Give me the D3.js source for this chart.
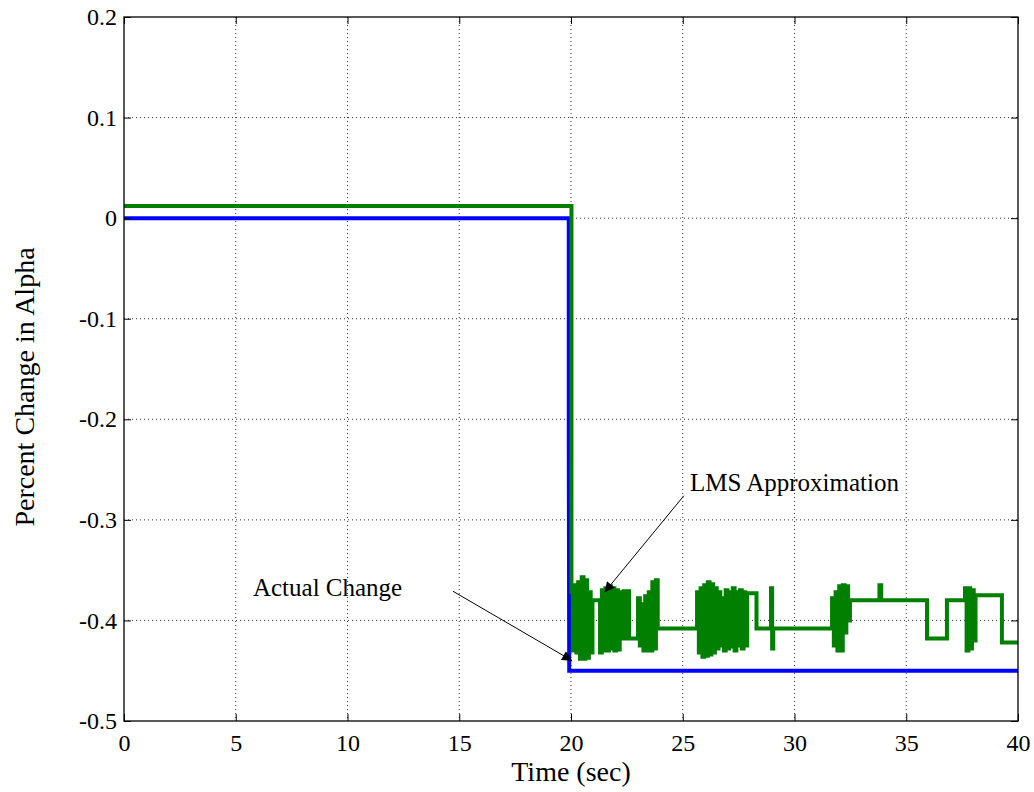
<!DOCTYPE html>
<html>
<head>
<meta charset="utf-8">
<script src="https://cdn.jsdelivr.net/npm/d3@7"></script>
<style>
  body { margin: 0; background: #fff; }
  text { font-family: "Liberation Serif", "Times New Roman", serif; fill: #000; }
</style>
</head>
<body>
<div id="chart"></div>
<script>
// ---- data ----
const xTicks = [0, 5, 10, 15, 20, 25, 30, 35, 40]
const yTicks = [-0.5, -0.4, -0.3, -0.2, -0.1, 0, 0.1, 0.2]

// actual change in alpha (blue)
const actualPoints = [
  [0, 0], [19.9, 0], [19.9, -0.225], [19.92, -0.45], [40, -0.45]
]

// LMS approximation (green), step-wise
const lmsPoints = [
  [0, 0.012], [20.02, 0.012], [20.02, -0.372],
  [20.08, -0.430], [20.16, -0.365], [20.24, -0.432], [20.32, -0.362], [20.4, -0.438],
  [20.48, -0.357], [20.56, -0.438], [20.64, -0.360], [20.72, -0.437], [20.8, -0.372],
  [20.88, -0.432], [20.96, -0.380],
  [21.3, -0.432], [21.38, -0.370], [21.46, -0.430], [21.54, -0.368], [21.62, -0.430],
  [21.7, -0.366], [21.78, -0.428], [21.86, -0.368], [21.94, -0.430], [22.02, -0.370],
  [22.1, -0.429], [22.18, -0.372], [22.28, -0.418], [22.36, -0.371], [22.44, -0.418],
  [22.52, -0.371], [22.6, -0.418],
  [23.0, -0.378], [23.08, -0.425], [23.16, -0.384], [23.24, -0.430], [23.32, -0.376],
  [23.4, -0.430], [23.48, -0.372], [23.56, -0.430], [23.64, -0.362], [23.72, -0.428],
  [23.8, -0.360], [23.88, -0.408],
  [25.64, -0.372], [25.72, -0.432], [25.8, -0.368], [25.88, -0.436], [25.96, -0.365],
  [26.04, -0.435], [26.12, -0.362], [26.2, -0.434], [26.28, -0.364], [26.36, -0.432],
  [26.44, -0.368], [26.52, -0.428], [26.6, -0.372], [26.68, -0.425], [26.76, -0.378],
  [26.84, -0.430], [26.92, -0.370], [27.0, -0.428], [27.08, -0.372], [27.16, -0.426],
  [27.24, -0.368], [27.32, -0.430], [27.4, -0.372], [27.48, -0.425], [27.56, -0.370],
  [27.64, -0.428], [27.72, -0.372], [27.8, -0.425], [27.88, -0.373],
  [28.3, -0.408], [28.95, -0.368], [29.0, -0.428], [29.05, -0.408],
  [31.68, -0.378], [31.76, -0.425], [31.84, -0.372], [31.92, -0.430], [32.0, -0.366],
  [32.08, -0.430], [32.16, -0.365], [32.24, -0.412], [32.32, -0.366], [32.4, -0.400],
  [32.48, -0.380],
  [33.8, -0.365], [33.88, -0.380],
  [35.93, -0.418], [36.82, -0.380],
  [37.63, -0.368], [37.7, -0.430], [37.78, -0.368], [37.86, -0.428], [37.94, -0.370],
  [38.02, -0.420], [38.1, -0.375],
  [39.28, -0.422], [40, -0.422]
]

const annotations = [
  { label: "LMS Approximation", tx: 25.32, ty: -0.271, from: [25.05, -0.276], to: [21.5, -0.372] },
  { label: "Actual Change", tx: 5.77, ty: -0.376, from: [14.72, -0.371], to: [20.05, -0.440] }
]

// ---- layout ----
const W = 1034, H = 792
const margin = { top: 17, right: 16, bottom: 71, left: 124 }
const width = W - margin.left - margin.right
const height = H - margin.top - margin.bottom

const svg = d3.select("#chart").append("svg")
  .attr("width", W)
  .attr("height", H)

const g = svg.append("g").attr("transform", `translate(${margin.left},${margin.top})`)

const x = d3.scaleLinear().domain([0, 40]).range([0, width])
const y = d3.scaleLinear().domain([-0.5, 0.2]).range([height, 0])

// grid
g.append("g").selectAll("line").data(xTicks.slice(1, -1)).enter().append("line")
  .attr("x1", d => x(d)).attr("x2", d => x(d))
  .attr("y1", 0).attr("y2", height)
  .attr("stroke", "#333").attr("stroke-width", 1).attr("stroke-dasharray", "1,3")
g.append("g").selectAll("line").data(yTicks.slice(1, -1)).enter().append("line")
  .attr("y1", d => y(d)).attr("y2", d => y(d))
  .attr("x1", 0).attr("x2", width)
  .attr("stroke", "#333").attr("stroke-width", 1).attr("stroke-dasharray", "1,3")

// lines
const line = d3.line().x(d => x(d[0])).y(d => y(d[1]))

g.append("path").datum(actualPoints)
  .attr("fill", "none").attr("stroke", "#0000ff").attr("stroke-width", 4)
  .attr("d", line)

g.append("path").datum(lmsPoints)
  .attr("fill", "none").attr("stroke", "#007f00").attr("stroke-width", 4)
  .attr("stroke-linejoin", "miter")
  .attr("d", line.curve(d3.curveStepAfter))

// box
g.append("rect").attr("width", width).attr("height", height)
  .attr("fill", "none").attr("stroke", "#000").attr("stroke-width", 1.3)

// axes, ticks inward
const fmtY = d => d === 0 ? "0" : d3.format(".1f")(d).replace("\u2212", "-")
const xAxis = d3.axisBottom(x).tickValues(xTicks).tickSize(-7).tickPadding(13).tickFormat(d3.format("d"))
const yAxis = d3.axisLeft(y).tickValues(yTicks).tickSize(-7).tickPadding(7).tickFormat(fmtY)

g.append("g").attr("transform", `translate(0,${height})`).call(xAxis)
g.append("g").call(yAxis)
// top/right ticks
g.append("g").call(d3.axisTop(x).tickValues(xTicks).tickSize(-7).tickFormat(""))
g.append("g").attr("transform", `translate(${width},0)`).call(d3.axisRight(y).tickValues(yTicks).tickSize(-7).tickFormat(""))

g.selectAll(".domain").remove()
g.selectAll(".tick line").attr("stroke", "#000")
g.selectAll(".tick text").style("font-family", '"Liberation Serif", serif').style("font-size", "24px")

// axis labels
svg.append("text")
  .attr("x", margin.left + width / 2).attr("y", 781)
  .attr("text-anchor", "middle").style("font-size", "28px")
  .text("Time (sec)")

svg.append("text")
  .attr("transform", `translate(34,${margin.top + height / 2 + 18}) rotate(-90)`)
  .attr("text-anchor", "middle").style("font-size", "28px")
  .text("Percent Change in Alpha")

// annotations
svg.append("defs").append("marker")
  .attr("id", "arrow").attr("viewBox", "0 0 10 10")
  .attr("refX", 10).attr("refY", 5)
  .attr("markerWidth", 14).attr("markerHeight", 10).attr("markerUnits", "userSpaceOnUse")
  .attr("orient", "auto")
  .append("path").attr("d", "M0,0 L10,5 L0,10 z").attr("fill", "#000")

annotations.forEach(a => {
  g.append("text")
    .attr("x", x(a.tx)).attr("y", y(a.ty))
    .style("font-size", "25px")
    .text(a.label)
  g.append("line")
    .attr("x1", x(a.from[0])).attr("y1", y(a.from[1]))
    .attr("x2", x(a.to[0])).attr("y2", y(a.to[1]))
    .attr("stroke", "#000").attr("stroke-width", 1)
    .attr("marker-end", "url(#arrow)")
})
</script>
</body>
</html>
